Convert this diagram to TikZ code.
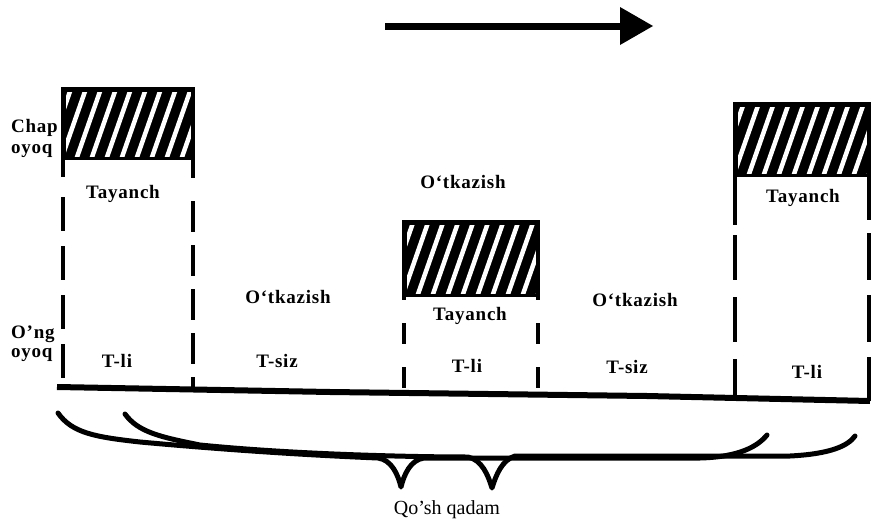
\documentclass[tikz,border=0pt]{standalone}
\usepackage{fontspec}
\setmainfont{Liberation Serif}
\newfontfamily\lblfont[LetterSpace=4]{Liberation Serif}
\begin{document}
\begin{tikzpicture}[x=1pt,y=-1pt,
  lbl/.style={font=\lblfont\bfseries\fontsize{19}{22}\selectfont,inner sep=0pt,anchor=base},
  side/.style={font=\lblfont\bfseries\fontsize{19}{22}\selectfont,inner sep=0pt,anchor=base west},
  vline/.style={line width=4pt,line cap=butt},
  baseln/.style={line width=6pt},
  bracecurve/.style={line width=5pt,line cap=round,line join=round}]
\useasboundingbox (0,0) rectangle (879,522);
% hatched box: #1,#2 top-left ; #3,#4 bottom-right
\newcommand\hatchbox[4]{%
  \fill[black] (#1,#2) rectangle (#3,#4);
  \begin{scope}
    \clip ({#1+5},{#2+5}) rectangle ({#3-4},{#4-4});
    \foreach \k in {-4,...,12}{
      \draw[white,line width=4.5pt] ({#1+\k*15},{#4}) -- ++(28,-80);
    }
  \end{scope}}
% direction arrow
\coordinate (arS) at (385,26);
\coordinate (arE) at (622,26);
\draw[line width=7pt] (arS) -- (arE);
\fill (620,7) -- (653,26) -- (620,45) -- cycle;
% ground line
\draw[baseln] (57,387) -- (330,392) -- (647,396) -- (870,401);
% left box
\hatchbox{61}{87}{195}{160}
\draw[vline] (63,87) -- (63,177);
\draw[vline,dash pattern=on 34pt off 15pt] (63,197) -- (63,388);
\draw[vline] (193,87) -- (193,178);
\draw[vline,dash pattern=on 31pt off 13pt] (193,201) -- (193,389);
% middle box
\hatchbox{402}{220}{540}{297}
\draw[vline] (404,220) -- (404,300);
\draw[vline,dash pattern=on 21pt off 23pt] (404,323) -- (404,393);
\draw[vline] (538,220) -- (538,300);
\draw[vline,dash pattern=on 21pt off 23pt] (538,323) -- (538,395);
% right box
\hatchbox{733}{102}{871}{177}
\draw[vline] (735,102) -- (735,225);
\draw[vline,dash pattern=on 45pt off 17pt] (735,235) -- (735,399);
\draw[vline] (869,102) -- (869,220);
\draw[vline,dash pattern=on 47pt off 15pt] (869,233) -- (869,401);
% labels
\node[side] (chap) at (11,132) {Chap};
\node[side] (oyoq1) at (11,153) {oyoq};
\node[side] (ong) at (11,338) {O’ng};
\node[side] (oyoq2) at (11,357) {oyoq};
\node[lbl] (tay1) at (123,198) {Tayanch};
\node[lbl] (tli1) at (117,367) {T-li};
\node[lbl] (otk1) at (288,303) {O‘tkazish};
\node[lbl] (tsiz1) at (277,367) {T-siz};
\node[lbl] (otk2) at (463,188) {O‘tkazish};
\node[lbl] (tay2) at (470,320) {Tayanch};
\node[lbl] (tli2) at (467,372) {T-li};
\node[lbl] (otk3) at (635,306) {O‘tkazish};
\node[lbl] (tsiz2) at (627,373) {T-siz};
\node[lbl] (tay3) at (803,202) {Tayanch};
\node[lbl] (tli3) at (807,378) {T-li};
% braces
\draw[bracecurve] (58,413) .. controls (72,433) and (95,437) .. (140,442)
  .. controls (250,452) and (330,456) .. (378,458)
  .. controls (392,460) and (398,475) .. (401,487)
  .. controls (404,475) and (410,460) .. (424,458)
  -- (700,458) .. controls (740,457) and (758,446) .. (767,435);
\draw[bracecurve] (125,414) .. controls (138,432) and (160,437) .. (200,445)
  .. controls (300,455) and (420,457) .. (468,457)
  .. controls (482,460) and (488,475) .. (492,488)
  .. controls (496,475) and (502,460) .. (515,456)
  -- (790,456) .. controls (830,454) and (848,446) .. (855,436);
\node[font=\fontsize{20}{24}\selectfont,inner sep=0pt,anchor=base] (qq) at (447,514) {Qo’sh qadam};
\end{tikzpicture}
\end{document}
